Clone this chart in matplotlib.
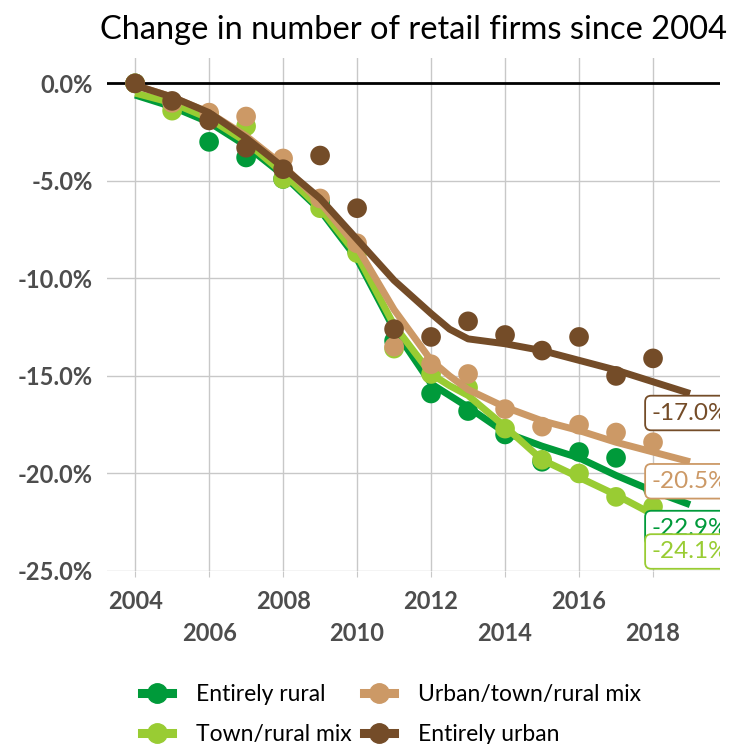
import numpy as np
import matplotlib.pyplot as plt
from matplotlib.lines import Line2D

plt.rcParams['font.family'] = ['Lato', 'DejaVu Sans']

# yearly observations (% change since 2004)
years = np.arange(2004, 2019)
rural = [0.0, -1.1, -3.0, -3.8, -4.9, -6.1, -8.6, -13.2, -15.9, -16.8, -18.0, -19.4, -18.9, -19.2, -20.8]
town_rural = [0.0, -1.4, -1.6, -2.2, -4.9, -6.4, -8.7, -13.6, -14.9, -15.6, -17.7, -19.3, -20.0, -21.2, -21.7]
urban_mix = [0.0, -1.0, -1.5, -1.7, -3.85, -5.9, -8.2, -13.5, -14.4, -14.9, -16.7, -17.6, -17.5, -17.9, -18.4]
urban = [0.0, -0.9, -1.9, -3.3, -4.4, -3.7, -6.4, -12.6, -13.0, -12.2, -12.9, -13.7, -13.0, -15.0, -14.1]

# smoothed trend lines
trend_years = [2004, 2005, 2006, 2007, 2008, 2009, 2010, 2011, 2012, 2012.5, 2013, 2014, 2015, 2016, 2017, 2018, 2019]
rural_trend = [-0.6, -1.2, -2.0, -3.2, -4.7, -6.5, -9.0, -12.6, -15.4, -16.0, -16.6, -17.9, -18.6, -19.2, -20.1, -20.9, -21.6]
town_rural_trend = [-0.5, -1.0, -1.8, -3.0, -4.6, -6.4, -8.8, -12.4, -14.9, -15.5, -16.0, -17.6, -19.3, -20.2, -21.1, -22.1, -23.0]
urban_mix_trend = [-0.1, -0.7, -1.5, -2.7, -4.2, -6.1, -8.4, -11.6, -14.2, -15.0, -15.7, -16.6, -17.3, -17.8, -18.4, -18.9, -19.4]
urban_trend = [-0.1, -0.7, -1.5, -2.8, -4.3, -5.9, -8.0, -10.1, -11.8, -12.6, -13.1, -13.35, -13.7, -14.2, -14.7, -15.3, -15.9]

names = ['Entirely rural', 'Town/rural mix', 'Urban/town/rural mix', 'Entirely urban']
colors = ['#009A3A', '#99CC33', '#CC9966', '#744C28']
end_labels = ['-22.9%', '-24.1%', '-20.5%', '-17.0%']
label_y = [-22.8, -24.0, -20.4, -16.9]

points = [rural, town_rural, urban_mix, urban]
trends = [rural_trend, town_rural_trend, urban_mix_trend, urban_trend]

fig = plt.figure(figsize=(7.48, 7.44), dpi=100)
ax = fig.add_axes([107 / 748, 1 - 571 / 744, (720 - 107) / 748, (571 - 58) / 744])

for i in range(4):
    ax.plot(trend_years, trends[i], color=colors[i], lw=5, solid_capstyle='butt',
            solid_joinstyle='round', zorder=3 + i)
    ax.scatter(years, points[i], s=200, color=colors[i], edgecolors='none', zorder=3 + i)

ax.axhline(0, color='black', lw=2, zorder=2.5)

ax.set_xlim(2003.24, 2019.81)
ax.set_ylim(-25, 1.3)
ax.set_xticks(np.arange(2004, 2019, 2))
ax.set_yticks(np.arange(-25, 1, 5))
ax.set_yticklabels([f'{v:.1f}%' for v in np.arange(-25, 1, 5)])
ax.grid(True, color='#c8c8c8', lw=1)
ax.set_axisbelow(True)
for s in ax.spines.values():
    s.set_visible(False)

ax.tick_params(axis='y', length=0, pad=10, labelsize=17, labelcolor='#4d4d4d')
ax.tick_params(axis='x', length=4, color='#c8c8c8', labelsize=17, labelcolor='#4d4d4d')
for lab in ax.get_xticklabels() + ax.get_yticklabels():
    lab.set_fontweight('bold')
for k, tick in enumerate(ax.xaxis.get_major_ticks()):
    tick.set_pad(10 if k % 2 == 0 else 33)

ax.set_title('Change in number of retail firms since 2004', fontsize=23.5, pad=14)

# end-of-line value boxes (clipped at the plot edge)
for i in [3, 2, 0, 1]:
    t = ax.text(2017.97, label_y[i], end_labels[i], color=colors[i], fontsize=17.5,
                ha='left', va='center', zorder=10,
                bbox=dict(boxstyle='round,pad=0.28,rounding_size=0.25', fc='white',
                          ec=colors[i], lw=1.3))
    t.set_clip_on(True)
    t.set_clip_box(ax.bbox)

handles = [Line2D([], [], color=c, lw=6.5, marker='o', markersize=14) for c in colors]
fig.legend(handles, names, ncol=2, loc='upper left', bbox_to_anchor=(0.19, 0.081),
           frameon=False, fontsize=16.5, handlelength=1.3, handletextpad=1.05,
           columnspacing=0.55, labelspacing=0.85, borderpad=0, borderaxespad=0)

fig.savefig('out.png', dpi=100)
